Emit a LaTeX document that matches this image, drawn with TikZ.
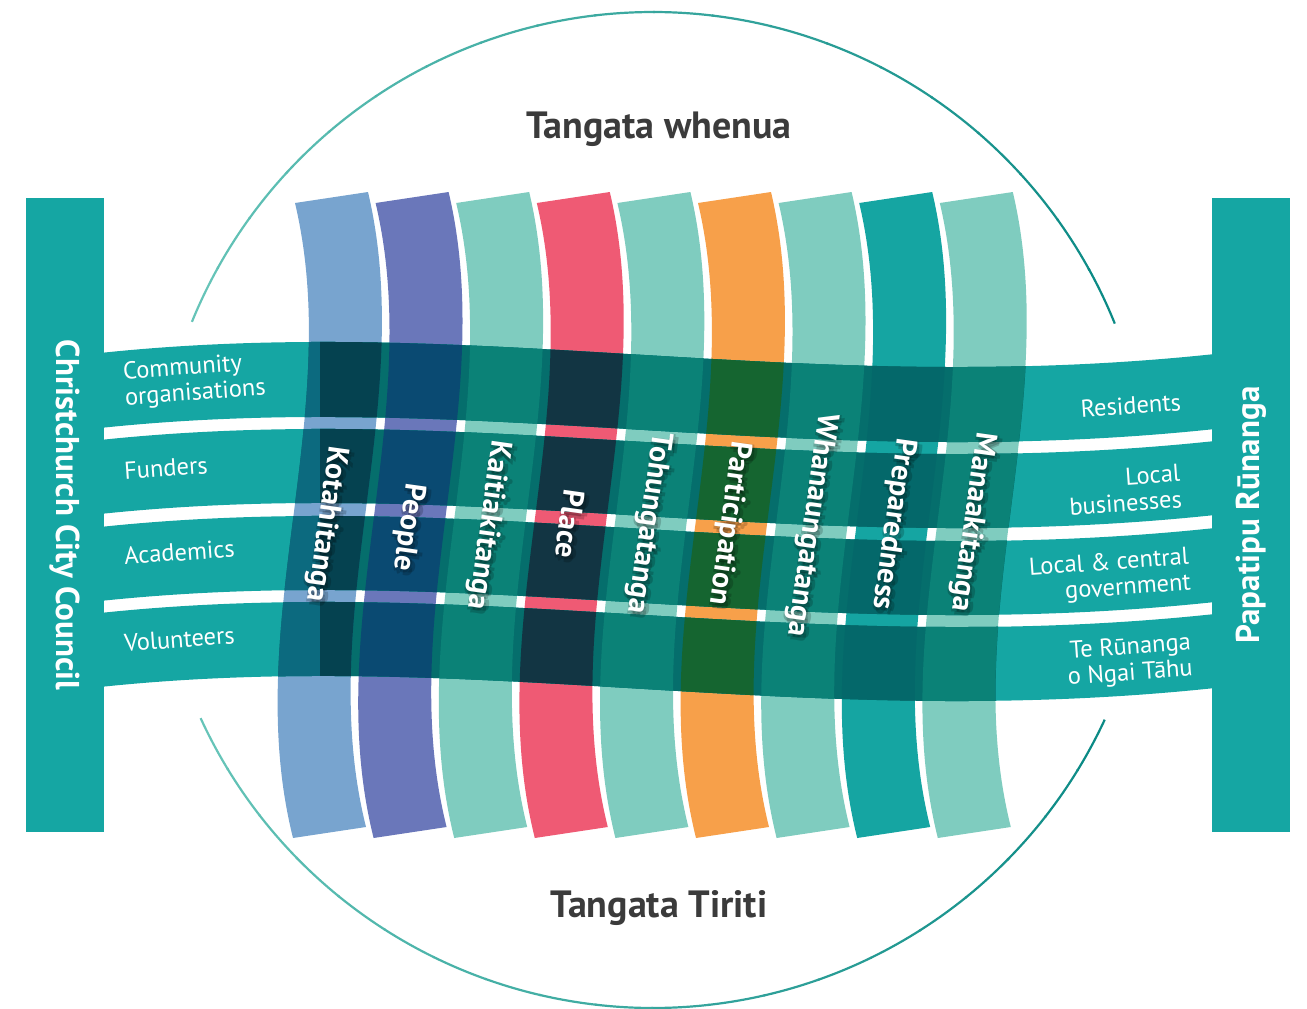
\documentclass[tikz,border=0pt]{standalone}
\usepackage{fontspec}
\setmainfont{PT Sans}
\usetikzlibrary{positioning}

\definecolor{bandteal}{HTML}{15A6A3}
\definecolor{ringlight}{HTML}{66C4B8}
\definecolor{ringdark}{HTML}{0B8A85}
\definecolor{titlegrey}{HTML}{3B3B3B}
\definecolor{kotac}{HTML}{78A4CF}
\definecolor{peoplec}{HTML}{6A77BA}
\definecolor{mintc}{HTML}{7FCCBF}
\definecolor{placec}{HTML}{EF5A74}
\definecolor{partc}{HTML}{F7A04A}
\definecolor{prepc}{HTML}{15A5A2}
\definecolor{kotaover}{HTML}{0C6A7F}
\definecolor{kotadeep}{HTML}{054250}
\definecolor{peopleover}{HTML}{0A4A72}
\definecolor{mintover}{HTML}{0B8277}
\definecolor{placeover}{HTML}{123543}
\definecolor{partover}{HTML}{156530}
\definecolor{prepover}{HTML}{04686A}
\definecolor{seamc}{HTML}{056E6C}

% vertical strand: left x, width
\newcommand{\vpath}[2]{(#1,203) .. controls (#1+50,415) and (#1-55,626) .. (#1-2,838) -- (#1+#2-2,827) .. controls (#1+#2-55,615) and (#1+#2+50,404) .. (#1+#2,192) -- cycle}
% horizontal strand: top y, bottom y
\newcommand{\hpath}[2]{(100,#1) .. controls (480,#1-40) and (800,#1+45) .. (1215,#1+1) -- (1215,#2+1) .. controls (800,#2+45) and (480,#2-40) .. (100,#2) -- cycle}
\newcommand{\bandpath}{\hpath{353}{428} \hpath{440}{514} \hpath{527}{601} \hpath{613}{687}}
% strand label with soft shadow
\newcommand{\strand}[4]{%
  \foreach \a [count=\k] in {0,90,...,270}
    \node[glow] (#1g\k) at ({#2+2+3*cos(\a)},{#3+3+3*sin(\a)}) {#4};
  \node[strandtext] (#1) at (#2,#3) {#4};
}

\begin{document}
\begin{tikzpicture}[x=1pt,y=-1pt]
    \tikzstyle{circleline}=[line width=2.2pt]
    \tikzstyle{sidebar}=[fill=bandteal, text=white, minimum width=634pt, minimum height=78pt, inner sep=0pt, font=\fontsize{33}{40}\selectfont\bfseries]
    \tikzstyle{bandtext}=[text=white, rotate=4, inner sep=0pt, font=\fontsize{24.5}{26}\selectfont]
    \tikzstyle{strandtext}=[text=white, rotate=-98, inner sep=0pt, font=\fontsize{30}{36}\selectfont\bfseries]
    \tikzstyle{glow}=[strandtext, text=black, text opacity=0.18]
    \tikzstyle{heading}=[text=titlegrey, font=\fontsize{38}{44}\selectfont\bfseries]

    \useasboundingbox (0,0) rectangle (1307,1009);

    % outer circle
    \foreach \s in {0,...,19} {
        \pgfmathsetmacro{\aa}{202.2+6.78*\s}
        \pgfmathsetmacro{\mx}{5.26*\s}
        \draw[circleline, ringdark!\mx!ringlight] (653,510) ++(\aa:498) arc[start angle=\aa, end angle=\aa+7, radius=498];
    }
    \foreach \s in {0,...,19} {
        \pgfmathsetmacro{\aa}{24.9+6.51*\s}
        \pgfmathsetmacro{\mx}{100-5.26*\s}
        \draw[circleline, ringdark!\mx!ringlight] (653,510) ++(\aa:498) arc[start angle=\aa, end angle=\aa+6.7, radius=498];
    }

    % vertical strands
    \foreach \L/\base in {295/kotac, 375.6/peoplec, 456.2/mintc, 536.8/placec, 617.4/mintc, 698/partc, 778.6/mintc, 859.2/prepc, 939.8/mintc}
        \fill[\base] \vpath{\L}{73};

    % horizontal strands woven over them
    \fill[bandteal] \bandpath;
    \begin{scope}
        \clip \bandpath;
        \fill[seamc] \vpath{295}{718};
        \foreach \L/\over in {295/kotaover, 375.6/peopleover, 456.2/mintover, 536.8/placeover, 617.4/mintover, 698/partover, 778.6/mintover, 859.2/prepover, 939.8/mintover}
            \fill[\over] \vpath{\L}{73};
        \begin{scope}
            \clip \vpath{295}{73};
            \fill[kotadeep] (320,320) rectangle (400,720);
        \end{scope}
    \end{scope}

    % side bars
    \node[sidebar, rotate=-90] (ccc) at (65,515) {Christchurch City Council};
    \node[sidebar, rotate=90] (papatipu) at (1251,515) {Papatipu Rūnanga};

    % headings
    \node[heading] (whenua) at (659,129) {Tangata whenua};
    \node[heading] (tiriti) at (659,908) {Tangata Tiriti};

    % labels on horizontal strands
    \node[bandtext, anchor=west, align=left] (community) at (124,386) {Community\\organisations};
    \node[bandtext, anchor=west] (funders) at (124,471) {Funders};
    \node[bandtext, anchor=west] (academics) at (124,556) {Academics};
    \node[bandtext, anchor=west] (volunteers) at (124,643) {Volunteers};
    \node[bandtext, anchor=east] (residents) at (1181,402) {Residents};
    \node[bandtext, anchor=east, align=right] (business) at (1181,486) {Local\\businesses};
    \node[bandtext, anchor=east, align=right] (government) at (1190,571) {Local \& central\\government};
    \node[bandtext, anchor=east, align=right] (tronuku) at (1192,657) {Te Rūnanga\\o Ngai Tāhu};

    % labels on vertical strands
    \strand{kotahitanga}{326}{524}{Kotahitanga}
    \strand{people}{408}{527}{People}
    \strand{kaitiakitanga}{488}{525}{Kaitiakitanga}
    \strand{place}{570}{524}{Place}
    \strand{tohungatanga}{648}{523}{Tohungatanga}
    \strand{participation}{729}{523}{Participation}
    \strand{whanaungatanga}{811}{525}{Whanaungatanga}
    \strand{preparedness}{893}{524}{Preparedness}
    \strand{manaakitanga}{972}{522}{Manaakitanga}
\end{tikzpicture}
\end{document}
